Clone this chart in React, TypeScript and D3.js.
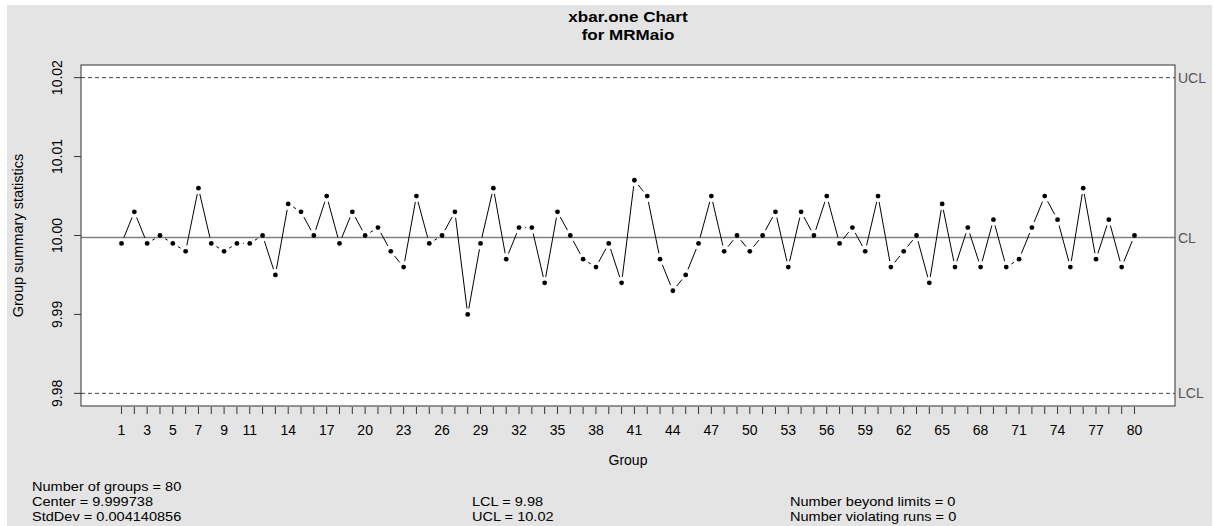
import React from "react";
import * as d3 from "d3";

const groups: number[] = Array.from({ length: 80 }, (_, i) => i + 1);
const values: number[] = [
  9.999, 10.003, 9.999, 10.0, 9.999, 9.998, 10.006, 9.999, 9.998, 9.999,
  9.999, 10.0, 9.995, 10.004, 10.003, 10.0, 10.005, 9.999, 10.003, 10.0,
  10.001, 9.998, 9.996, 10.005, 9.999, 10.0, 10.003, 9.99, 9.999, 10.006,
  9.997, 10.001, 10.001, 9.994, 10.003, 10.0, 9.997, 9.996, 9.999, 9.994,
  10.007, 10.005, 9.997, 9.993, 9.995, 9.999, 10.005, 9.998, 10.0, 9.998,
  10.0, 10.003, 9.996, 10.003, 10.0, 10.005, 9.999, 10.001, 9.998, 10.005,
  9.996, 9.998, 10.0, 9.994, 10.004, 9.996, 10.001, 9.996, 10.002, 9.996,
  9.997, 10.001, 10.005, 10.002, 9.996, 10.006, 9.997, 10.002, 9.996, 10.0,
];
const xTickLabels: number[] = [1, 3, 5, 7, 9, 11, 14, 17, 20, 23, 26, 29, 32, 35, 38, 41, 44, 47, 50, 53, 56, 59, 62, 65, 68, 71, 74, 77, 80];
const yTicks: number[] = [9.98, 9.99, 10.0, 10.01, 10.02];
const center = 9.999738;
const lcl = 9.98;
const ucl = 10.02;
const titleLines: string[] = ["xbar.one Chart", "for MRMaio"];
const statsLeft: string[] = ["Number of groups = 80", "Center = 9.999738", "StdDev = 0.004140856"];
const statsMid: string[] = ["LCL = 9.98", "UCL = 10.02"];
const statsRight: string[] = ["Number beyond limits = 0", "Number violating runs = 0"];

const W = 1213;
const H = 526;
const L = 81, R = 1175, T = 65, B = 406;
const FONT = "'Liberation Sans', Arial, Helvetica, sans-serif";

export default function App() {
  const n = groups.length;
  const xpad = 0.04 * (n - 1);
  const x = d3.scaleLinear().domain([1 - xpad, n + xpad]).range([L, R]);
  const ylo = Math.min(lcl, d3.min(values)!);
  const yhi = Math.max(ucl, d3.max(values)!);
  const ypad = 0.04 * (yhi - ylo);
  const y = d3.scaleLinear().domain([ylo - ypad, yhi + ypad]).range([B, T]);

  const pts = values.map((v, i) => [x(groups[i]), y(v)] as [number, number]);
  const gap = 6;
  const segs: string[] = [];
  for (let i = 0; i < pts.length - 1; i++) {
    const [x0, y0] = pts[i];
    const [x1, y1] = pts[i + 1];
    const dx = x1 - x0, dy = y1 - y0;
    const len = Math.hypot(dx, dy);
    if (len <= 2 * gap) continue;
    const ux = dx / len, uy = dy / len;
    const p = d3.path();
    p.moveTo(x0 + ux * gap, y0 + uy * gap);
    p.lineTo(x1 - ux * gap, y1 - uy * gap);
    segs.push(p.toString());
  }

  const statText = (s: string, tx: number, ty: number) => (
    <text key={s} transform={`translate(${tx},${ty}) scale(1.12,1)`} fontSize={13} fill="#000">
      {s}
    </text>
  );

  return (
    <div style={{ position: "absolute", left: 0, top: 0 }}>
      <svg width={W} height={H} style={{ display: "block", fontFamily: FONT }}>
        <rect x={0} y={0} width={W} height={H} fill="#ffffff" />
        <rect x={7} y={5} width={1205} height={H - 5} fill="#e4e4e4" />
        <rect x={L} y={T} width={R - L} height={B - T} fill="#ffffff" />

        {/* title */}
        {titleLines.map((t, i) => (
          <text
            key={t}
            transform={`translate(${(L + R) / 2},${22 + i * 18}) scale(1.1,1)`}
            textAnchor="middle"
            fontWeight="bold"
            fontSize={15.5}
            fill="#000"
          >
            {t}
          </text>
        ))}

        {/* control lines */}
        <line x1={L} x2={R} y1={y(ucl)} y2={y(ucl)} stroke="#444" strokeWidth={1} strokeDasharray="4,3" />
        <line x1={L} x2={R} y1={y(lcl)} y2={y(lcl)} stroke="#444" strokeWidth={1} strokeDasharray="4,3" />
        <line x1={L} x2={R} y1={y(center)} y2={y(center)} stroke="#808080" strokeWidth={1.5} />
        <text x={R + 3} y={y(ucl) + 5} fontSize={14} fill="#555">UCL</text>
        <text x={R + 3} y={y(center) + 5} fontSize={14} fill="#555">CL</text>
        <text x={R + 3} y={y(lcl) + 5} fontSize={14} fill="#555">LCL</text>

        {/* data */}
        {segs.map((d, i) => (
          <path key={i} d={d} stroke="#000" strokeWidth={1} fill="none" />
        ))}
        {pts.map(([px, py], i) => (
          <circle key={i} cx={px} cy={py} r={2.4} fill="#000" />
        ))}

        {/* box */}
        <rect x={L} y={T} width={R - L} height={B - T} fill="none" stroke="#333" strokeWidth={1} />

        {/* y axis */}
        {yTicks.map((t) => (
          <g key={t}>
            <line x1={L - 7} x2={L} y1={y(t)} y2={y(t)} stroke="#333" />
            <text
              transform={`translate(${62},${y(t)}) rotate(-90)`}
              textAnchor="middle"
              fontSize={14}
              fill="#000"
            >
              {d3.format(".2f")(t)}
            </text>
          </g>
        ))}
        <text transform={`translate(${23},${(T + B) / 2}) rotate(-90)`} textAnchor="middle" fontSize={14.5} fill="#000">
          Group summary statistics
        </text>

        {/* x axis */}
        {groups.map((g) => (
          <line key={g} x1={x(g)} x2={x(g)} y1={407} y2={414} stroke="#333" />
        ))}
        {xTickLabels.map((g) => (
          <text key={g} x={x(g)} y={435} textAnchor="middle" fontSize={14} fill="#000">
            {g}
          </text>
        ))}
        <text x={(L + R) / 2} y={465} textAnchor="middle" fontSize={14} fill="#000">
          Group
        </text>

        {/* stats */}
        {statsLeft.map((s, i) => statText(s, 32, 491 + i * 15))}
        {statsMid.map((s, i) => statText(s, 472, 506 + i * 15))}
        {statsRight.map((s, i) => statText(s, 790, 506 + i * 15))}
      </svg>
    </div>
  );
}
